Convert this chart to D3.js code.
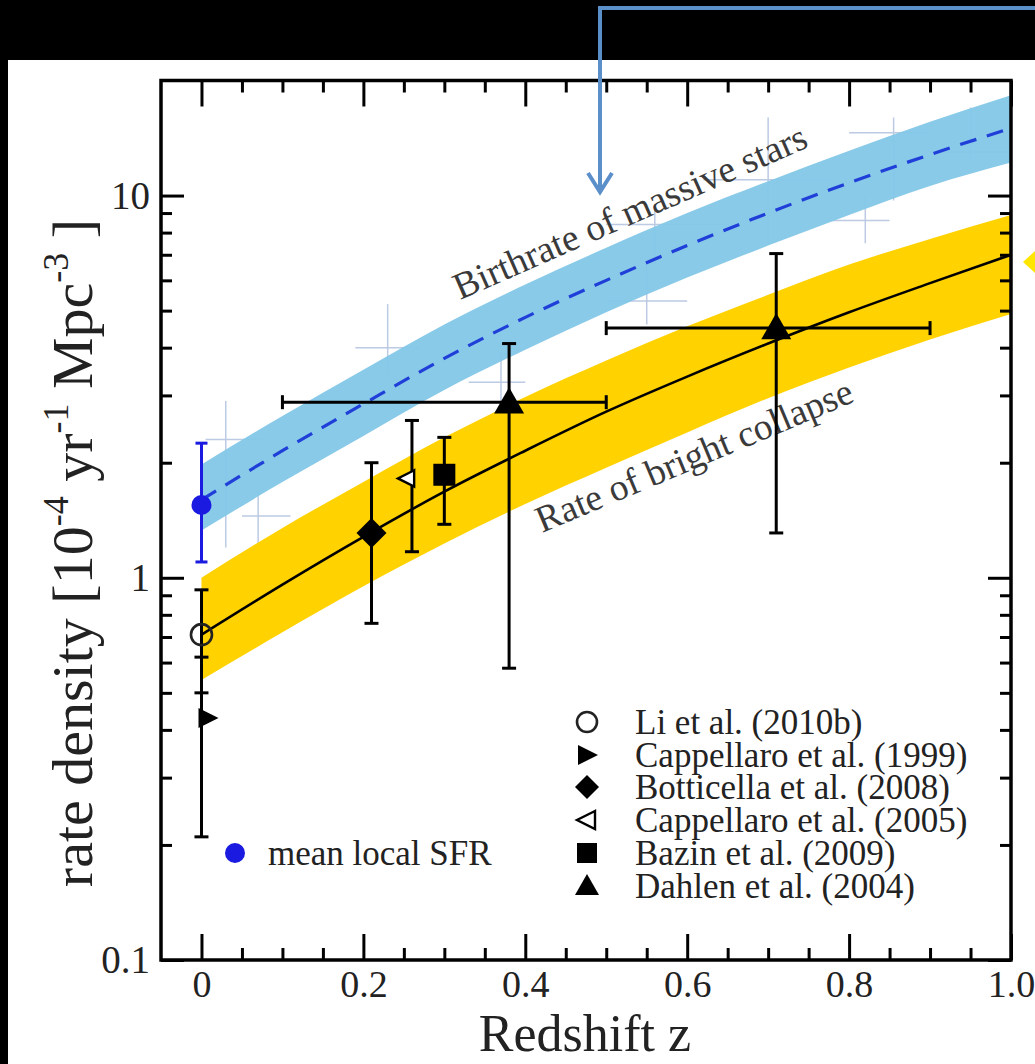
<!DOCTYPE html>
<html>
<head>
<meta charset="utf-8">
<script src="https://cdn.jsdelivr.net/npm/d3@7"></script>
<style>
  html, body { margin: 0; padding: 0; background: #000; }
  svg { display: block; }
  svg text { font-family: "Liberation Serif", "Tinos", "Times New Roman", "DejaVu Serif", serif; }
</style>
</head>
<body>
<svg id="chart" width="1035" height="1064"></svg>
<script>
// ---------------- DATA ----------------
const zGrid      = [0.0, 0.1, 0.2, 0.3, 0.4, 0.5, 0.6, 0.7, 0.8, 0.9, 1.0];
// Birthrate of massive stars (blue band, dashed centre line)
const sfrMid     = [1.60, 2.15, 2.85, 3.75, 4.80, 6.00, 7.40, 9.00, 10.8, 12.8, 15.0];
const sfrUpper   = [1.98, 2.65, 3.50, 4.60, 5.85, 7.30, 9.00, 10.9, 13.1, 15.6, 18.3];
const sfrLower   = [1.33, 1.78, 2.35, 3.10, 3.95, 4.95, 6.10, 7.40, 8.90, 10.6, 12.2];
// Rate of bright collapse (yellow band, solid centre line)
const ccMid      = [0.71, 0.96, 1.28, 1.68, 2.15, 2.72, 3.36, 4.10, 4.95, 5.90, 7.00];
const ccUpper    = [1.00, 1.35, 1.78, 2.33, 2.97, 3.70, 4.55, 5.50, 6.60, 7.70, 8.90];
const ccLower    = [0.54, 0.72, 0.95, 1.23, 1.56, 1.94, 2.40, 2.95, 3.55, 4.20, 4.90];

// faint background star-formation measurements (crosses)
const bgZ     = [0.03, 0.07, 0.23, 0.37, 0.55, 0.56, 0.70, 0.82, 0.855, 0.95];
const bgV     = [2.30, 1.45, 4.00, 3.25, 5.30, 8.40, 11.0, 8.60, 14.6, 13.0];
const bgZlo   = [0.005, 0.05, 0.19, 0.33, 0.50, 0.50, 0.62, 0.77, 0.80, 0.90];
const bgZhi   = [0.075, 0.11, 0.27, 0.40, 0.60, 0.65, 0.78, 0.85, 0.90, 1.00];
const bgVlo   = [1.20, 1.20, 3.40, 2.70, 4.60, 6.60, 7.50, 7.50, 9.70, 12.0];
const bgVhi   = [2.90, 1.70, 5.20, 3.90, 6.60, 9.50, 16.0, 10.0, 16.0, 17.0];

// mean local SFR
const meanZ = [0.0], meanV = [1.55], meanLo = [1.10], meanHi = [2.25];

// supernova rate measurements
const snNames  = ["Li et al. (2010b)", "Cappellaro et al. (1999)", "Botticella et al. (2008)",
                  "Cappellaro et al. (2005)", "Bazin et al. (2009)", "Dahlen et al. (2004)"];
const snSymbol = ["circleOpen", "triRight", "diamond", "triLeftOpen", "square", "triUp"];
const snSeries = [0, 1, 2, 3, 4, 5, 5];
const snZ      = [0.0, 0.0, 0.21, 0.26, 0.30, 0.38, 0.71];
const snV      = [0.71, 0.43, 1.31, 1.82, 1.86, 2.88, 4.50];
const snVlo    = [0.50, 0.21, 0.76, 1.17, 1.38, 0.58, 1.31];
const snVhi    = [0.93, 0.62, 2.00, 2.58, 2.33, 4.10, 7.05];
const snZlo    = [null, null, null, null, null, 0.10, 0.50];
const snZhi    = [null, null, null, null, null, 0.50, 0.90];

// axes
const xMajor = [0, 0.2, 0.4, 0.6, 0.8, 1.0];
const xMajorLabels = ["0", "0.2", "0.4", "0.6", "0.8", "1.0"];
const xMinor = [0.05, 0.1, 0.15, 0.25, 0.3, 0.35, 0.45, 0.5, 0.55, 0.65, 0.7, 0.75, 0.85, 0.9, 0.95];
const yMajor = [0.1, 1, 10];
const yMajorLabels = ["0.1", "1", "10"];
const yMinor = [0.2, 0.3, 0.4, 0.5, 0.6, 0.7, 0.8, 0.9, 2, 3, 4, 5, 6, 7, 8, 9];

// ---------------- DRAWING ----------------
const svg = d3.select("#chart");
const W = 1035, H = 1064;
const L = 161, R = 1011, T = 80.5, B = 960;

svg.append("rect").attr("width", W).attr("height", H).attr("fill", "#000");
svg.append("rect").attr("x", 8).attr("y", 60).attr("width", W - 8).attr("height", H - 60).attr("fill", "#fff");

const x = d3.scaleLinear().domain([-0.05, 1.0]).range([L, R]);
const y = d3.scaleLog().domain([0.1, 20]).range([B, T]);

svg.append("clipPath").attr("id", "plotclip")
  .append("rect").attr("x", L).attr("y", T).attr("width", R - L).attr("height", B - T);
const plot = svg.append("g").attr("clip-path", "url(#plotclip)");

// faint crosses
const bgG = plot.append("g").attr("stroke", "#bccae3").attr("stroke-width", 1.5);
bgZ.forEach((z, i) => {
  bgG.append("line").attr("x1", x(bgZlo[i])).attr("x2", x(bgZhi[i])).attr("y1", y(bgV[i])).attr("y2", y(bgV[i]));
  bgG.append("line").attr("x1", x(z)).attr("x2", x(z)).attr("y1", y(bgVlo[i])).attr("y2", y(bgVhi[i]));
});

const idx = zGrid.map((d, i) => i);
const area = (up, lo) => d3.area().curve(d3.curveMonotoneX)
  .x(i => x(zGrid[i])).y0(i => y(lo[i])).y1(i => y(up[i]));
const line = (mid) => d3.line().curve(d3.curveMonotoneX).x(i => x(zGrid[i])).y(i => y(mid[i]));

plot.append("path").attr("d", area(sfrUpper, sfrLower)(idx)).attr("fill", "#83c7e8").attr("opacity", 0.95);
plot.append("path").attr("d", area(ccUpper, ccLower)(idx)).attr("fill", "#ffd200");
plot.append("path").attr("d", line(sfrMid)(idx)).attr("fill", "none")
  .attr("stroke", "#1f3fd8").attr("stroke-width", 3.2).attr("stroke-dasharray", "17,11");
plot.append("path").attr("d", line(ccMid)(idx)).attr("fill", "none")
  .attr("stroke", "#000").attr("stroke-width", 2.6);

// curve labels
svg.append("text").attr("font-size", 37.5).attr("fill", "#3a3a3a")
  .attr("transform", `translate(460,300) rotate(-23.7)`).text("Birthrate of massive stars");
svg.append("text").attr("font-size", 37.5).attr("fill", "#3a3a3a")
  .attr("transform", `translate(542,533) rotate(-22.8)`).text("Rate of bright collapse");

function errBar(g, xv, yv1, yv2, color, cap, w) {
  g.append("line").attr("x1", xv).attr("x2", xv).attr("y1", yv1).attr("y2", yv2)
    .attr("stroke", color).attr("stroke-width", w);
  [yv1, yv2].forEach(yy => g.append("line").attr("x1", xv - cap).attr("x2", xv + cap)
    .attr("y1", yy).attr("y2", yy).attr("stroke", color).attr("stroke-width", w));
}
function errBarH(g, xv1, xv2, yv, color, cap, w) {
  g.append("line").attr("x1", xv1).attr("x2", xv2).attr("y1", yv).attr("y2", yv)
    .attr("stroke", color).attr("stroke-width", w);
  [xv1, xv2].forEach(xx => g.append("line").attr("x1", xx).attr("x2", xx)
    .attr("y1", yv - cap).attr("y2", yv + cap).attr("stroke", color).attr("stroke-width", w));
}

const ptsG = svg.append("g");
meanZ.forEach((z, i) => {
  errBar(ptsG, x(z), y(meanLo[i]), y(meanHi[i]), "#1a1ae0", 6, 3);
  ptsG.append("circle").attr("cx", x(z)).attr("cy", y(meanV[i])).attr("r", 10).attr("fill", "#1a1ae0");
});

function drawSymbol(g, type, cx, cy, s) {
  switch (type) {
    case "circleOpen":
      g.append("circle").attr("cx", cx).attr("cy", cy).attr("r", s * 0.5)
        .attr("fill", "none").attr("stroke", "#222").attr("stroke-width", 2.6); break;
    case "triRight":
      g.append("path").attr("d", `M${cx - s*0.45},${cy - s*0.5}L${cx + s*0.55},${cy}L${cx - s*0.45},${cy + s*0.5}Z`).attr("fill", "#000"); break;
    case "diamond":
      g.append("path").attr("d", `M${cx},${cy - s*0.6}L${cx + s*0.6},${cy}L${cx},${cy + s*0.6}L${cx - s*0.6},${cy}Z`).attr("fill", "#000"); break;
    case "triLeftOpen":
      g.append("path").attr("d", `M${cx + s*0.4},${cy - s*0.45}L${cx - s*0.5},${cy}L${cx + s*0.4},${cy + s*0.45}Z`)
        .attr("fill", "#fff").attr("stroke", "#000").attr("stroke-width", 2.4); break;
    case "square":
      g.append("rect").attr("x", cx - s*0.5).attr("y", cy - s*0.5).attr("width", s).attr("height", s).attr("fill", "#000"); break;
    case "triUp":
      g.append("path").attr("d", `M${cx - s*0.6},${cy + s*0.45}L${cx},${cy - s*0.6}L${cx + s*0.6},${cy + s*0.45}Z`).attr("fill", "#000"); break;
  }
}

const symOffset = {circleOpen: 0, triRight: 6, diamond: 0, triLeftOpen: -5, square: 0, triUp: 0};
const symSize   = {circleOpen: 21, triRight: 20, diamond: 25, triLeftOpen: 18, square: 22, triUp: 25};
snZ.forEach((z, i) => {
  const px = x(z), py = y(snV[i]);
  errBar(ptsG, px, y(snVlo[i]), y(snVhi[i]), "#000", 7, 3);
  if (snZlo[i] !== null) errBarH(ptsG, x(snZlo[i]), x(snZhi[i]), py, "#000", 7, 3);
});
snZ.forEach((z, i) => {
  const t = snSymbol[snSeries[i]];
  drawSymbol(ptsG, t, x(z) + symOffset[t], y(snV[i]), symSize[t]);
});

// ---------------- AXES ----------------
const axG = svg.append("g");
function styleAxis(g, fs) {
  g.attr("font-family", null);
  g.select(".domain").remove();
  g.selectAll("line").attr("stroke", "#000").attr("stroke-width", 3);
  g.selectAll("text").attr("font-size", fs || 40).attr("fill", "#222");
}
axG.append("g").attr("transform", `translate(0,${B})`)
  .call(d3.axisBottom(x).tickValues(xMajor).tickSizeInner(-26).tickSizeOuter(0).tickPadding(10)
    .tickFormat((d, i) => xMajorLabels[i]))
  .call(styleAxis, 38);
axG.append("g").attr("transform", `translate(0,${B})`)
  .call(d3.axisBottom(x).tickValues(xMinor).tickSizeInner(-12).tickSizeOuter(0).tickFormat(""))
  .call(styleAxis);
axG.append("g").attr("transform", `translate(0,${T})`)
  .call(d3.axisTop(x).tickValues(xMajor).tickSizeInner(-26).tickSizeOuter(0).tickFormat(""))
  .call(styleAxis);
axG.append("g").attr("transform", `translate(0,${T})`)
  .call(d3.axisTop(x).tickValues(xMinor).tickSizeInner(-12).tickSizeOuter(0).tickFormat(""))
  .call(styleAxis);
axG.append("g").attr("transform", `translate(${L},0)`)
  .call(d3.axisLeft(y).tickValues(yMajor).tickSizeInner(-23).tickSizeOuter(0).tickPadding(11)
    .tickFormat((d, i) => yMajorLabels[i]))
  .call(styleAxis, 39);
axG.append("g").attr("transform", `translate(${L},0)`)
  .call(d3.axisLeft(y).tickValues(yMinor).tickSizeInner(-11).tickSizeOuter(0).tickFormat(""))
  .call(styleAxis);
axG.append("g").attr("transform", `translate(${R},0)`)
  .call(d3.axisRight(y).tickValues(yMajor).tickSizeInner(-23).tickSizeOuter(0).tickFormat(""))
  .call(styleAxis);
axG.append("g").attr("transform", `translate(${R},0)`)
  .call(d3.axisRight(y).tickValues(yMinor).tickSizeInner(-11).tickSizeOuter(0).tickFormat(""))
  .call(styleAxis);
axG.append("rect").attr("x", L).attr("y", T).attr("width", R - L).attr("height", B - T)
  .attr("fill", "none").attr("stroke", "#000").attr("stroke-width", 3.5);

// axis titles
svg.append("text").attr("x", 585).attr("y", 1051).attr("text-anchor", "middle")
  .attr("font-size", 52).attr("fill", "#222").text("Redshift z");

const yt = svg.append("text").attr("transform", "translate(92,553) rotate(-90)")
  .attr("text-anchor", "middle").attr("font-size", 58).attr("fill", "#222");
yt.append("tspan").text("rate density [10");
yt.append("tspan").attr("dy", -24).attr("font-size", 36).text("-4");
yt.append("tspan").attr("dy", 24).text("  yr");
yt.append("tspan").attr("dy", -24).attr("font-size", 36).text("-1");
yt.append("tspan").attr("dy", 24).text("  Mpc");
yt.append("tspan").attr("dy", -24).attr("font-size", 36).text("-3");
yt.append("tspan").attr("dy", 24).text(" ]");

// legends
const legY = [722, 755, 787, 820, 853, 886];
const legG = svg.append("g");
snNames.forEach((n, i) => {
  drawSymbol(legG, snSymbol[i], 587, legY[i], 20);
  legG.append("text").attr("x", 635).attr("y", legY[i] + 12)
    .attr("font-size", 35).attr("fill", "#222").text(n);
});
legG.append("circle").attr("cx", 235).attr("cy", 853).attr("r", 10).attr("fill", "#1a1ae0");
legG.append("text").attr("x", 268).attr("y", 865)
  .attr("font-size", 35).attr("fill", "#222").text("mean local SFR");

// annotation arrows
svg.append("path").attr("d", "M1035,8 L600,8 L600,192").attr("fill", "none")
  .attr("stroke", "#5b8fca").attr("stroke-width", 4);
svg.append("path").attr("d", "M588,173 L600,192 L612,173").attr("fill", "none")
  .attr("stroke", "#5b8fca").attr("stroke-width", 4).attr("stroke-linejoin", "miter");
svg.append("path").attr("d", "M1023,262 L1035,251 L1035,273 Z").attr("fill", "#ffe600");
</script>
</body>
</html>
